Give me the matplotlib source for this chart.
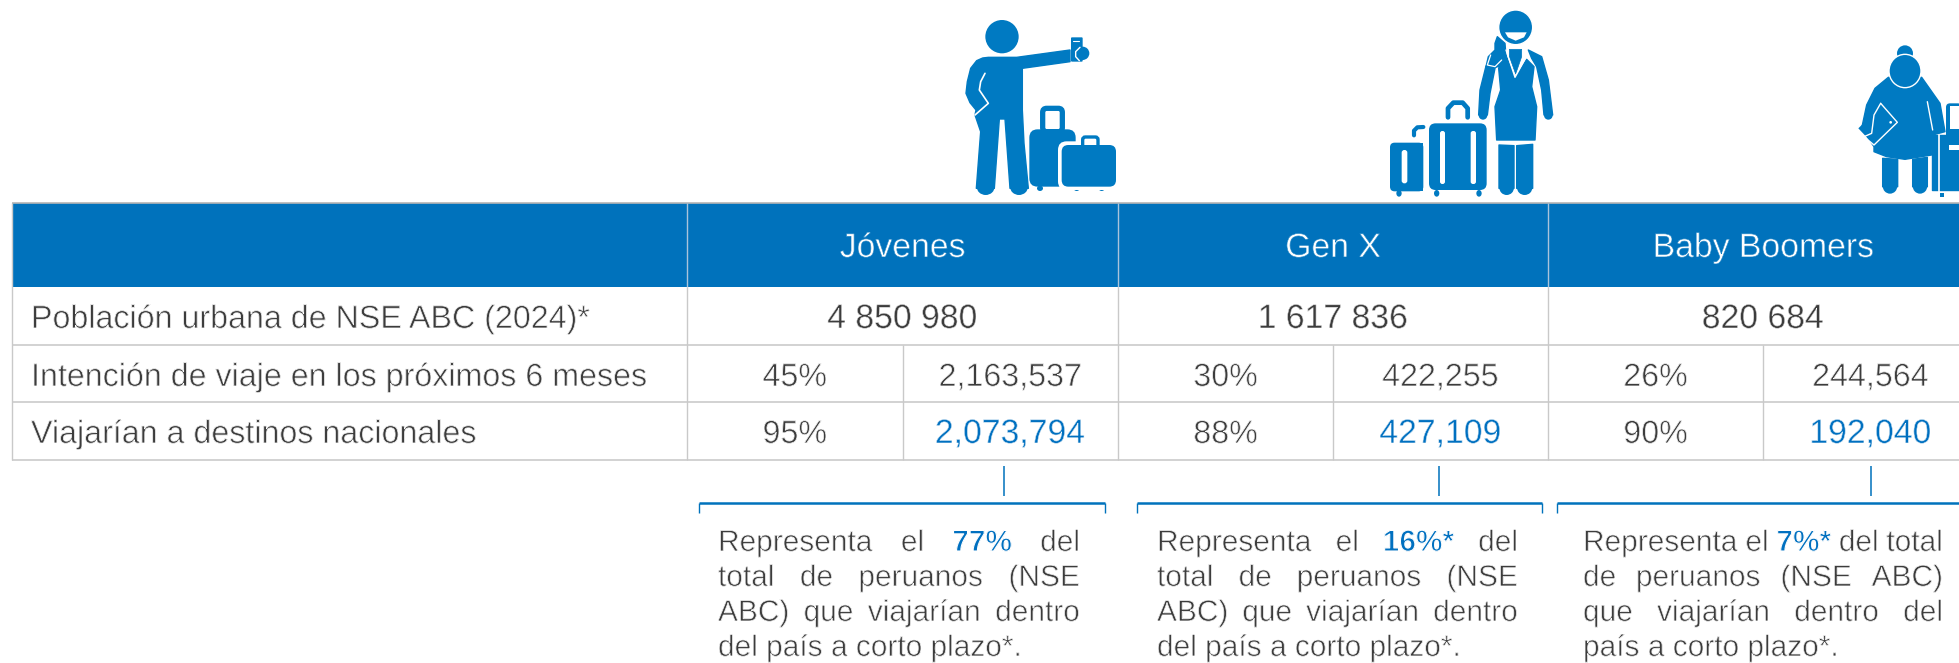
import matplotlib
matplotlib.use('Agg')
import matplotlib.pyplot as plt
import matplotlib.patheffects as pe
from matplotlib.patches import Rectangle, Polygon, Ellipse, FancyBboxPatch

plt.rcParams['font.family'] = ['Liberation Sans', 'DejaVu Sans']

# table content
groups = ['Jóvenes', 'Gen X', 'Baby Boomers']
row_labels = ['Población urbana de NSE ABC (2024)*',
              'Intención de viaje en los próximos 6 meses',
              'Viajarían a destinos nacionales']
poblacion = ['4 850 980', '1 617 836', '820 684']
intencion_pct = ['45%', '30%', '26%']
intencion_n = ['2,163,537', '422,255', '244,564']
nacional_pct = ['95%', '88%', '90%']
nacional_n = ['2,073,794', '427,109', '192,040']

# notes: one list of lines per group, blue word marked with a leading |
notas = [
    ['Representa el |77% del', 'total de peruanos (NSE', 'ABC) que viajarían dentro', 'del país a corto plazo*.'],
    ['Representa el |16%* del', 'total de peruanos (NSE', 'ABC) que viajarían dentro', 'del país a corto plazo*.'],
    ['Representa el |7%* del total', 'de peruanos (NSE ABC)', 'que viajarían dentro del', 'país a corto plazo*.'],
]

# layout in pixels
W, H = 1959, 663
left = 12
col_edges = [687, 1118, 1548, 1978]
row_edges = [202.5, 287, 345, 402, 460]
baselines = [328, 386, 443]
note_box = [(718, 1080), (1157, 1518), (1583, 1943)]
note_y = [551, 586, 621, 656]
brackets = [(699, 1105), (1137, 1542), (1557, 1975)]
ticks = [1004, 1439, 1871]

BLUE = '#0072BC'
ICON = '#007AC2'
TXTBLUE = '#0070C0'
DARK = '#3c3c3c'
FS = 23.2
FS_BIG = 24.3
NOTE_FS = 21.5

fig = plt.figure(figsize=(W / 100, H / 100), dpi=100)
ax = fig.add_axes([0, 0, 1, 1])
ax.set_xlim(0, W)
ax.set_ylim(H, 0)
ax.axis('off')

thin = [pe.Normal(), pe.Stroke(linewidth=0.55, foreground='white')]
thin_w = [pe.Normal(), pe.Stroke(linewidth=0.45, foreground=BLUE)]
thin_b = [pe.Normal(), pe.Stroke(linewidth=0.4, foreground='white')]


def vline(x, y0, y1, c='#c9c9c9', lw=1.0):
    ax.plot([x, x], [y0, y1], color=c, lw=lw, solid_capstyle='butt')


def hline(y, x0, x1, c='#cfcfcf', lw=1.3):
    ax.plot([x0, x1], [y, y], color=c, lw=lw, solid_capstyle='butt')


# header band and grid
ax.add_patch(Rectangle((left, row_edges[0]), W - left, row_edges[1] - row_edges[0], fc=BLUE, ec='none'))
hline(row_edges[0], left, W, '#b5b5b5', 1.2)
for y in row_edges[2:]:
    hline(y, left, W)
vline(left, row_edges[0], row_edges[-1])
for x in col_edges[:3]:
    vline(x, row_edges[0], row_edges[1], '#a9c4dc', 1.0)
    vline(x, row_edges[1], row_edges[-1])

ax.text(31, baselines[0], row_labels[0], fontsize=FS, color=DARK, path_effects=thin)
ax.text(31, baselines[1], row_labels[1], fontsize=FS, color=DARK, path_effects=thin)
ax.text(31, baselines[2], row_labels[2], fontsize=FS, color=DARK, path_effects=thin)

for i in range(3):
    x0, x1 = col_edges[i], col_edges[i + 1]
    xm = (x0 + x1) / 2
    vline(xm, row_edges[2], row_edges[-1])
    ax.text(xm, 257, groups[i], fontsize=FS_BIG, color='white', ha='center', path_effects=thin_w)
    ax.text(xm, baselines[0], poblacion[i], fontsize=FS_BIG, color=DARK, ha='center', path_effects=thin_b)
    ax.text((x0 + xm) / 2, baselines[1], intencion_pct[i], fontsize=FS, color=DARK, ha='center', path_effects=thin)
    ax.text((xm + x1) / 2, baselines[1], intencion_n[i], fontsize=FS, color=DARK, ha='center', path_effects=thin)
    ax.text((x0 + xm) / 2, baselines[2], nacional_pct[i], fontsize=FS, color=DARK, ha='center', path_effects=thin)
    ax.text((xm + x1) / 2, baselines[2], nacional_n[i], fontsize=FS_BIG, color=TXTBLUE, ha='center', path_effects=thin_b)

# connector ticks and brackets
for x in ticks:
    vline(x, 466, 496, BLUE, 1.1)
for a, b in brackets:
    hline(503, a, b, BLUE, 1.8)
    vline(a, 503, 513, BLUE, 1.0)
    vline(b, 503, 513, BLUE, 1.0)

# justified notes, word by word
fig.canvas.draw()
rend = fig.canvas.get_renderer()


def word_width(s, **kw):
    t = ax.text(0, 0, s, fontsize=NOTE_FS, **kw)
    w = t.get_window_extent(rend).width
    t.remove()
    return w


for lines, (xa, xb) in zip(notas, note_box):
    for k, (line, y) in enumerate(zip(lines, note_y)):
        words = line.split(' ')
        clean = [w.lstrip('|') for w in words]
        widths = [word_width(w, fontweight='bold' if o.startswith('|') else 'normal') for w, o in zip(clean, words)]
        if k == len(lines) - 1:
            gap = word_width('a a') - 2 * word_width('a')
        else:
            gap = (xb - xa - sum(widths)) / (len(words) - 1)
        x = xa
        for w, o, wd in zip(clean, words, widths):
            if o.startswith('|'):
                ax.text(x, y, w, fontsize=NOTE_FS, color=TXTBLUE, fontweight='bold',
                        path_effects=[pe.Normal(), pe.Stroke(linewidth=0.8, foreground='white')])
            else:
                ax.text(x, y, w, fontsize=NOTE_FS, color=DARK, path_effects=thin)
            x += wd + gap


def poly(pts, o, c=ICON, lw=1.0, z=5):
    p = [(o[0] + a / 3, o[1] + b / 3) for a, b in pts]
    ax.add_patch(Polygon(p, closed=True, fc=c, ec=c, lw=lw, joinstyle='round', zorder=z))


def ell(cx, cy, rx, ry, o, c=ICON, z=5, ec='none', lw=0):
    ax.add_patch(Ellipse((o[0] + cx / 3, o[1] + cy / 3), 2 * rx / 3, 2 * ry / 3, fc=c, ec=ec, lw=lw, zorder=z))


def box(x0, y0, x1, y1, r, o, c=ICON, ec='none', lw=0, z=5, fill=True):
    ax.add_patch(FancyBboxPatch((o[0] + (x0 + r) / 3, o[1] + (y0 + r) / 3), (x1 - x0 - 2 * r) / 3, (y1 - y0 - 2 * r) / 3,
                                boxstyle='round,pad=%f,rounding_size=%f' % (r / 3, r / 3),
                                fc=c if fill else 'none', ec=ec, lw=lw, zorder=z))


def stroke(pts, o, c='white', lw=1.0, z=6):
    ax.plot([o[0] + a / 3 for a, b in pts], [o[1] + b / 3 for a, b in pts], color=c, lw=lw,
            solid_capstyle='round', solid_joinstyle='round', zorder=z)


# man with phone
o = (960, 10)
ell(126, 80, 50, 50, o)
poly([(85, 142), (170, 142), (330, 120), (330, 155), (187, 175), (187, 300), (192, 400), (205, 535), (150, 535),
      (135, 327), (118, 327), (103, 535), (49, 535), (62, 365), (45, 315), (48, 300), (30, 278), (18, 250), (22, 215),
      (32, 175), (50, 152), (68, 144)], o)
ell(77, 530, 27, 25, o)
ell(177, 530, 27, 25, o)
stroke([(75, 190), (62, 215), (58, 240), (85, 280), (45, 315)], o, lw=1.2)
box(333, 82, 368, 155, 3, o)
stroke([(338, 92), (358, 92)], o, lw=0.8)
ell(368, 130, 20, 20, o, z=6)
stroke([(360, 112), (347, 125), (347, 140), (358, 152)], o, lw=1.0, z=7)
box(248, 295, 307, 365, 12, o, c='none', ec=ICON, lw=3.8, fill=False)
box(208, 358, 347, 530, 25, o)
ell(240, 535, 9, 8, o)
ell(350, 535, 9, 8, o)
ell(425, 535, 9, 8, o)
box(368, 381, 414, 415, 8, o, c='none', ec=ICON, lw=2.4, fill=False, z=7)
box(294, 394, 480, 540, 26, o, c='white', z=6)
box(305, 405, 468, 530, 20, o, z=7)

# woman with suitcases
o = (1380, 0)
poly([(352, 110), (375, 130), (378, 170), (365, 195), (340, 205), (318, 200), (325, 170), (345, 150), (345, 130)], o)
ell(407, 82, 51, 52, o, z=6, ec='white', lw=1.0)
poly([(375, 97), (440, 97), (432, 112), (407, 122), (384, 112)], o, c='white', lw=0, z=7)
poly([(318, 198), (345, 205), (330, 280), (322, 345), (296, 345), (300, 270)], o)
ell(309, 346, 13, 13, o)
poly([(445, 150), (485, 170), (505, 240), (518, 345), (492, 345), (485, 270), (470, 200), (455, 175)], o)
ell(505, 346, 13, 13, o)
poly([(372, 150), (405, 235), (440, 178), (462, 200), (455, 260), (470, 320), (465, 420), (350, 420), (345, 320),
      (362, 270), (356, 205)], o)
poly([(388, 148), (425, 148), (425, 170), (407, 222), (388, 170)], o, lw=0.5)
stroke([(378, 150), (405, 232), (438, 172)], o, lw=1.0)
stroke([(332, 165), (322, 195), (345, 200), (365, 180)], o, lw=0.9)
poly([(357, 435), (402, 437), (402, 565), (357, 565)], o)
poly([(410, 437), (458, 433), (458, 565), (410, 565)], o)
ell(380, 563, 22, 22, o)
ell(434, 563, 23, 22, o)
box(147, 370, 320, 570, 20, o)
box(180, 393, 195, 552, 7, o, c='white', z=6)
box(272, 393, 288, 552, 7, o, c='white', z=6)
stroke([(204, 352), (204, 325), (220, 308), (248, 308), (263, 325), (263, 352)], o, c=ICON, lw=3.4)
ell(170, 580, 8, 10, o)
ell(297, 580, 8, 10, o)
box(30, 428, 130, 574, 14, o)
poly([(115, 428), (130, 428), (130, 574), (115, 574)], o, lw=0)
box(65, 450, 82, 550, 8, o, c='white', z=6)
stroke([(102, 406), (102, 392), (112, 382), (130, 381)], o, c=ICON, lw=3.0)
ell(57, 580, 8, 10, o)

# grandmother
o = (1850, 40)
ell(165, 40, 24, 24, o)
poly([(115, 112), (75, 145), (50, 195), (35, 265), (72, 320), (72, 335), (110, 350), (165, 358), (245, 345),
      (248, 285), (285, 275), (270, 190), (215, 112)], o)
ell(165, 93, 48, 50, o, z=6, ec='white', lw=1.0)
poly([(98, 355), (143, 358), (143, 440), (98, 440)], o)
poly([(188, 358), (232, 352), (232, 440), (188, 440)], o)
ell(120, 438, 22, 23, o)
ell(210, 438, 22, 23, o)
poly([(95, 195), (142, 247), (72, 315), (25, 265)], o, z=6, lw=0)
stroke([(92, 190), (142, 247), (72, 315), (42, 290)], o, lw=1.0, z=7)
stroke([(92, 190), (72, 225), (65, 280), (42, 290)], o, lw=1.0, z=7)
ell(122, 247, 4, 4, o, c='white', z=8)
stroke([(232, 185), (248, 270)], o, lw=1.0)
poly([(245, 285), (327, 285), (327, 450), (245, 450)], o)
box(288, 190, 335, 330, 12, o, z=5)
poly([(299, 198), (327, 198), (327, 268), (299, 268)], o, c='white', lw=0, z=6)
poly([(298, 316), (327, 316), (327, 330), (298, 330)], o, c='white', lw=0, z=6)
stroke([(268, 285), (268, 458)], o, lw=1.2)
poly([(270, 458), (282, 458), (282, 472), (270, 472)], o, lw=0)

fig.savefig('out.png', dpi=100)
